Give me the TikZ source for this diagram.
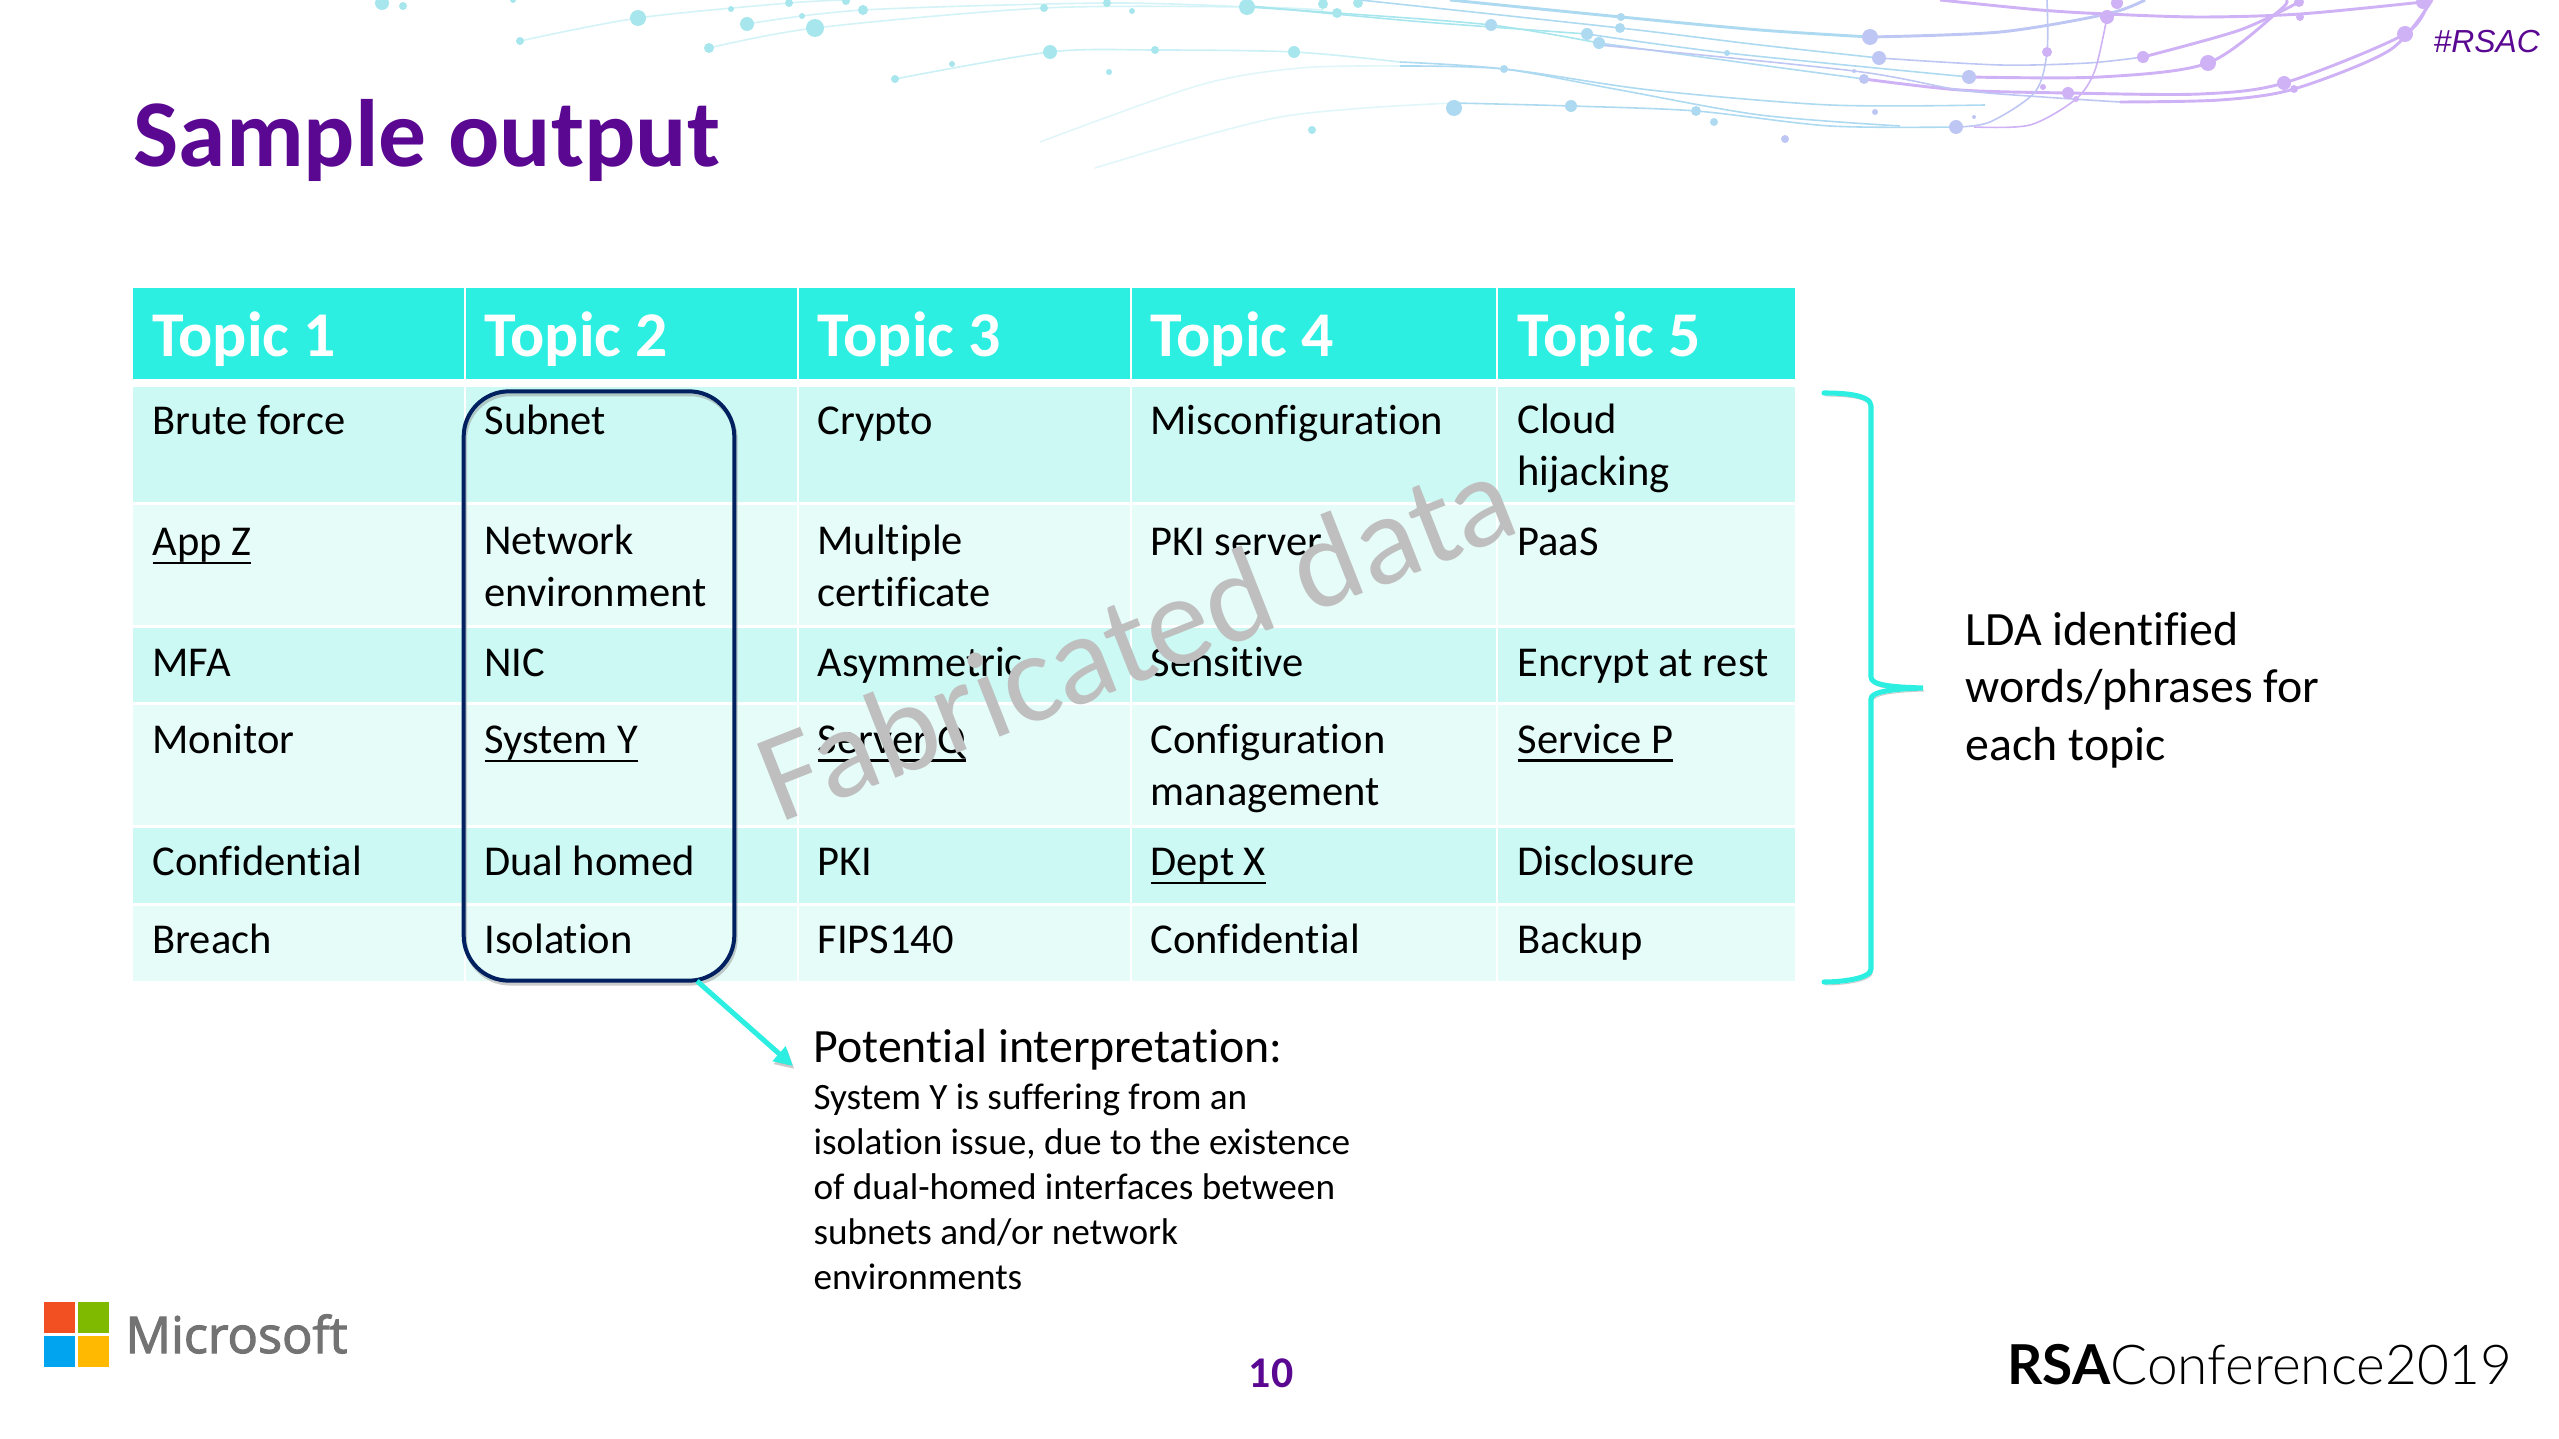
\documentclass[tikz,border=0pt]{standalone}
\usepackage{fontspec}
\setmainfont[Ligatures=NoCommon]{Carlito}
\newfontfamily\rsacfont{Liberation Sans}
\newfontfamily\msfont[FakeBold=2.2]{Open Sans}
\newfontfamily\lafont{Lato Light}
\newfontfamily\lbfont{Lato}
\newcommand{\ultext}[1]{\leavevmode\vtop{\hbox{\vrule height 0pt depth 2.4pt width 0pt #1}\hrule height .9pt}}
\usetikzlibrary{arrows.meta}
\definecolor{headcol}{HTML}{2CEFE2}
\definecolor{rowdark}{HTML}{CCF9F4}
\definecolor{rowlight}{HTML}{E6FCF9}
\definecolor{titlecol}{HTML}{5A0891}
\definecolor{selcol}{HTML}{002060}
\definecolor{wmcol}{HTML}{BFBFBF}
\definecolor{swa}{HTML}{A8E6EE}
\definecolor{swb}{HTML}{AEDAF1}
\definecolor{swc}{HTML}{BEC6F3}
\definecolor{swd}{HTML}{CFB2F5}
\definecolor{msred}{HTML}{F25022}
\definecolor{msgreen}{HTML}{7FBA00}
\definecolor{msblue}{HTML}{00A4EF}
\definecolor{msyellow}{HTML}{FFB900}
\tikzset{
	headtext/.style={anchor=base west, inner sep=0pt, text=white, font=\fontsize{24}{29}\selectfont\bfseries},
	celltext/.style={anchor=base west, inner sep=0pt, align=left, font=\fontsize{16}{19.4}\selectfont},
	thin line/.style={line width=.6pt},
	thick line/.style={line width=1.1pt},
	shadowed/.style={preaction={draw=black!45, opacity=.45, transform canvas={shift={(.5bp,-1.1bp)}}}},
	tealline/.style={draw=headcol, line width=1.9bp, shadowed}
}
\begin{document}
\begin{tikzpicture}[x=.375bp,y=-.375bp]
	\useasboundingbox (0,0) rectangle (2559,1439);
	% swooshes
	\draw[swa!50, thin line] plot[smooth] coordinates {(520,41) (638,18) (789,3) (846,0)};
	\draw[swa!50, thin line] plot[smooth] coordinates {(709,48) (815,28) (1044,8) (1247,7) (1323,10)};
	\draw[swa!50, thin line] plot[smooth] coordinates {(747,24) (863,10) (1107,3) (1247,7)};
	\draw[swa!60, thin line] plot[smooth] coordinates {(895,79) (1050,52) (1155,50) (1294,52) (1400,62)};
	\draw[swa!35, thin line] plot[smooth] coordinates {(1040,142) (1200,85) (1300,68) (1400,66)};
	\draw[swa!35, thin line] plot[smooth] coordinates {(1095,168) (1280,117) (1454,103)};
	\draw[swb, thin line] plot[smooth] coordinates {(1400,62) (1504,69) (1620,90) (1760,115) (1900,126)};
	\draw[swb, thin line] plot[smooth] coordinates {(1400,66) (1504,69) (1650,90) (1830,105) (1985,105)};
	\draw[swb, thin line] plot[smooth] coordinates {(1454,103) (1571,106) (1696,111) (1830,126) (1956,127)};
	\draw[swa, thin line] plot[smooth] coordinates {(1247,7) (1337,13) (1491,25) (1599,43)};
	\draw[swa, thin line] plot[smooth] coordinates {(1240,5) (1400,20) (1491,27) (1587,34)};
	\draw[swb, thick line] plot[smooth] coordinates {(1450,0) (1621,17) (1760,30) (1870,37)};
	\draw[swc, thick line] plot[smooth] coordinates {(1870,37) (2000,32) (2107,14) (2145,0)};
	\draw[swb, thin line] plot[smooth] coordinates {(1360,0) (1620,28) (1760,45) (1879,58)};
	\draw[swc, thin line] plot[smooth] coordinates {(1879,58) (2000,65) (2088,63) (2143,57)};
	\draw[swd, thick line] plot[smooth] coordinates {(2143,57) (2240,30) (2299,2)};
	\draw[swb, thin line] plot[smooth] coordinates {(1587,34) (1727,53) (1969,77)};
	\draw[swd, thick line] plot[smooth] coordinates {(1969,77) (2100,77) (2208,63) (2280,10) (2286,0)};
	\draw[swb, thin line] plot[smooth] coordinates {(1599,43) (1760,65) (1864,79)};
	\draw[swd, thick line] plot[smooth] coordinates {(1864,79) (1960,90) (2068,93) (2200,94) (2284,83) (2405,34) (2428,0)};
	\draw[swc, thin line] plot[smooth] coordinates {(1599,45) (1854,71) (1960,90) (2043,97) (2120,102)};
	\draw[swd, thick line] plot[smooth] coordinates {(2120,102) (2220,100) (2294,89) (2390,50) (2432,0)};
	\draw[swd, thick line] plot[smooth] coordinates {(1940,0) (2040,10) (2107,14) (2200,17) (2300,14) (2423,2)};
	\draw[swc, thin line] plot[smooth] coordinates {(2047,0) (2047,52) (2035,92) (1990,122) (1956,127)};
	\draw[swd, thin line] plot[smooth] coordinates {(2107,17) (2095,70) (2076,99) (2030,125) (1974,127)};
	\fill[swa] (382,3) circle (7) (403,6) circle (4) (513,0) circle (3) (520,41) circle (4) (638,18) circle (8) (731,9) circle (3) (747,24) circle (7) (709,48) circle (5) (815,28) circle (9) (789,3) circle (4) (802,16) circle (3) (846,1) circle (4) (863,10) circle (5) (1044,8) circle (4) (1107,3) circle (4) (1132,11) circle (3) (1247,7) circle (8) (895,79) circle (4) (952,64) circle (3) (1050,52) circle (7) (1155,50) circle (4) (1109,72) circle (3) (1323,4) circle (5) (1358,3) circle (5) (1337,13) circle (5) (1294,52) circle (6) (1312,130) circle (4);
	\fill[swb] (1491,25) circle (6) (1587,34) circle (6) (1599,43) circle (6) (1621,17) circle (4) (1620,28) circle (5) (1727,53) circle (3) (1504,69) circle (4) (1454,108) circle (8) (1571,106) circle (6) (1696,111) circle (5) (1714,122) circle (4);
	\fill[swc] (1870,37) circle (8) (1879,58) circle (7) (1854,71) circle (2) (1864,79) circle (5) (1969,77) circle (7) (1785,139) circle (4) (1875,112) circle (3) (1956,127) circle (7) (1974,117) circle (2);
	\fill[swd] (2047,52) circle (5) (2107,17) circle (7) (2117,3) circle (6) (2143,57) circle (6) (2208,63) circle (8) (2043,87) circle (3) (2068,93) circle (6) (2076,99) circle (3) (2284,83) circle (7) (2294,89) circle (4) (2300,17) circle (4) (2299,2) circle (5) (2405,34) circle (8) (2423,2) circle (7);
	\node (rsac) at (2433,53) [anchor=base west, inner sep=0pt, text=titlecol, font=\fontsize{12}{14}\selectfont\rsacfont\itshape] {\#RSAC};
	\node (title) at (133,167) [anchor=base west, inner sep=0pt, text=titlecol, font=\fontsize{36}{44}\selectfont\bfseries] {Sample output};
	% table bands
	\fill[headcol] (133,288) rectangle (1795,379);
	\fill[rowdark] (133,387) rectangle (1795,502);
	\fill[rowlight] (133,505) rectangle (1795,625);
	\fill[rowdark] (133,628) rectangle (1795,702);
	\fill[rowlight] (133,705) rectangle (1795,825);
	\fill[rowdark] (133,828) rectangle (1795,903);
	\fill[rowlight] (133,906) rectangle (1795,981);
	\draw[white, line width=1.1bp] (465,288) -- (465,981) (798,288) -- (798,981) (1131,288) -- (1131,981) (1497,288) -- (1497,981);
	% header
	\node (head1) at (152,356)	[headtext]	{Topic 1};
	\node (head2) at (484,356)	[headtext]	{Topic 2};
	\node (head3) at (817,356)	[headtext]	{Topic 3};
	\node (head4) at (1150,356)	[headtext]	{Topic 4};
	\node (head5) at (1517,356)	[headtext]	{Topic 5};
	% first column
	\node (a1) at (152,434)	[celltext]	{Brute force};
	\node (a2) at (152,555)	[celltext]	{\ultext{App Z}};
	\node (a3) at (152,676)	[celltext]	{MFA};
	\node (a4) at (152,753)	[celltext]	{Monitor};
	\node (a5) at (152,875)	[celltext]	{Confidential};
	\node (a6) at (152,953)	[celltext]	{Breach};
	% second column
	\node (b1) at (484,434)	[celltext]	{Subnet};
	\node (b2) at (484,606)	[celltext]	{Network\\environment};
	\node (b3) at (484,676)	[celltext]	{NIC};
	\node (b4) at (484,753)	[celltext]	{\ultext{System Y}};
	\node (b5) at (484,875)	[celltext]	{Dual homed};
	\node (b6) at (484,953)	[celltext]	{Isolation};
	% third column
	\node (c1) at (817,434)	[celltext]	{Crypto};
	\node (c2) at (817,606)	[celltext]	{Multiple\\certificate};
	\node (c3) at (817,676)	[celltext]	{Asymmetric};
	\node (c4) at (817,753)	[celltext]	{\ultext{Server Q}};
	\node (c5) at (817,875)	[celltext]	{PKI};
	\node (c6) at (817,953)	[celltext]	{FIPS140};
	% fourth column
	\node (d1) at (1150,434)	[celltext]	{Misconfiguration};
	\node (d2) at (1150,555)	[celltext]	{PKI server};
	\node (d3) at (1150,676)	[celltext]	{Sensitive};
	\node (d4) at (1150,805)	[celltext]	{Configuration\\management};
	\node (d5) at (1150,875)	[celltext]	{\ultext{Dept X}};
	\node (d6) at (1150,953)	[celltext]	{Confidential};
	% fifth column
	\node (e1) at (1517,485)	[celltext]	{Cloud\\hijacking};
	\node (e2) at (1517,555)	[celltext]	{PaaS};
	\node (e3) at (1517,676)	[celltext]	{Encrypt at rest};
	\node (e4) at (1517,753)	[celltext]	{\ultext{Service P}};
	\node (e5) at (1517,875)	[celltext]	{Disclosure};
	\node (e6) at (1517,953)	[celltext]	{Backup};
	% selection and its arrow
	\node (sel) at (599,686) [draw=selcol, line width=1.5bp, rounded corners=17bp, minimum width=101.5bp, minimum height=221bp, shadowed] {};
	\coordinate (arrowtail) at (697,981);
	\coordinate (arrowtip) at (793,1066);
	\draw[tealline, -{Triangle[length=7bp,width=7bp]}] (arrowtail) -- (arrowtip);
	\node (interp) at (813,1062) [anchor=base west, inner sep=0pt, font=\fontsize{18}{22}\selectfont] {Potential interpretation:};
	\node (interpbody) at (813,1289) [anchor=base west, inner sep=0pt, align=left, font=\fontsize{14}{16.9}\selectfont] {System Y is suffering from an\\isolation issue, due to the existence\\of dual-homed interfaces between\\subnets and/or network\\environments};
	% brace
	\draw[tealline, line cap=round] (1824,393) .. controls (1840,393) and (1871,394) .. (1871,406) -- (1871,677) .. controls (1871,685) and (1890,687) .. (1923,688) .. controls (1890,689) and (1871,692) .. (1871,699) -- (1871,969) .. controls (1871,979) and (1840,982) .. (1824,982);
	\node (lda) at (1965,760) [anchor=base west, inner sep=0pt, align=left, font=\fontsize{18}{21.5}\selectfont] {LDA identified\\words/phrases for\\each topic};
	% footer
	\fill[msred] (44,1302) rectangle (75,1333);
	\fill[msgreen] (78,1302) rectangle (109,1333);
	\fill[msblue] (44,1336) rectangle (75,1367);
	\fill[msyellow] (78,1336) rectangle (109,1367);
	\node (mslogo) at (125,1353) [anchor=base west, inner sep=0pt, text=black!55, font=\fontsize{19}{23}\selectfont\msfont] {Microsoft};
	\node (pagenum) at (1271,1387) [anchor=base, inner sep=0pt, text=titlecol, font=\fontsize{16.5}{19}\selectfont\bfseries] {10};
	\node (rsalogo) at (2007,1384) [anchor=base west, inner sep=0pt, font=\fontsize{20.7}{25}\selectfont\lafont] {{\lbfont\bfseries RSA}Conference2019};
	% watermark on top
	\node (mark) at (779,824) [anchor=base west, inner sep=0pt, rotate=21.5, text=wmcol, font=\fontsize{48}{58}\selectfont] {Fabricated data};
\end{tikzpicture}
\end{document}
